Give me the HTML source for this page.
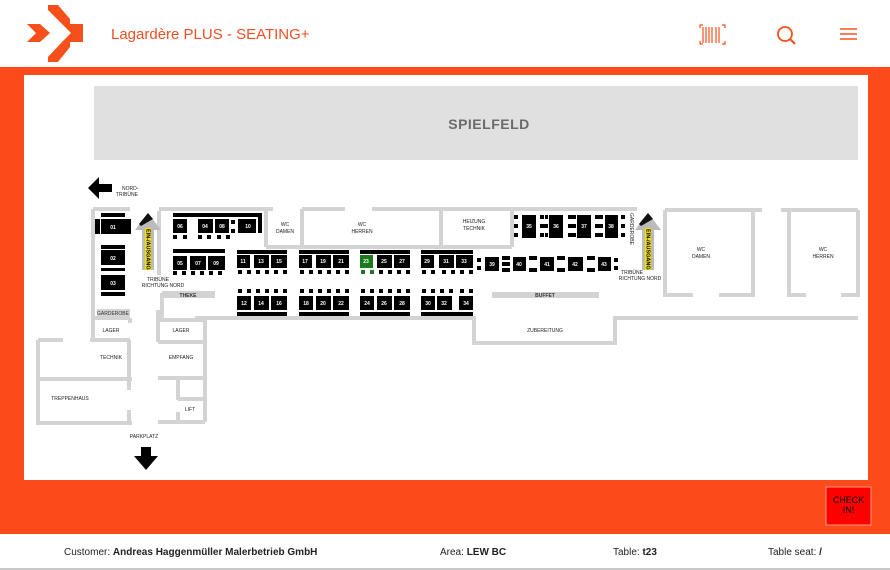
<!DOCTYPE html>
<html><head><meta charset="utf-8"><style>
html,body{margin:0;padding:0;width:890px;height:570px;overflow:hidden;background:#fff;font-family:"Liberation Sans",sans-serif}
</style></head><body>
<svg width="890" height="570" viewBox="0 0 890 570" xmlns="http://www.w3.org/2000/svg" font-family="Liberation Sans, sans-serif">
<rect width="890" height="570" fill="#fff"/>
<!-- logo -->
<g fill="#f5501c">
<polygon points="48,5 58,5 70,19 70,24 62,24 48,10"/>
<polygon points="27,24 40,24 50,33 40,42 27,42 36,33"/>
<polygon points="62,24 83,24 83,42 62,42 71,33"/>
<polygon points="62,42 70,42 70,47 58,62 48,62 48,57"/>
</g>
<text x="111" y="39" font-size="15" fill="#f04e23">Lagardère PLUS - SEATING+</text>
<!-- icons -->
<g stroke="#f5501c" fill="none" stroke-width="1.2">
<path d="M700,28 v-3 h3 M722,25 h3 v3 M700,41 v3 h3 M725,41 v3 h-3"/>
<path d="M703,27 v16 M706,27 v16 M709,27 v16 M712,27 v16 M716,27 v16 M719,27 v16" stroke-width="1.5" opacity="0.8"/>
<circle cx="785" cy="34" r="7" stroke-width="1.8"/>
<line x1="790" y1="39" x2="795" y2="44" stroke-width="2"/>
<path d="M840,29 h17 M840,34 h17 M840,39 h17" stroke-width="1.6"/>
</g>
<!-- orange band -->
<rect x="0" y="67" width="890" height="467" fill="#fc4a1a"/>
<rect x="24" y="75" width="844" height="405" fill="#fff"/>
<!-- spielfeld -->
<rect x="94" y="86" width="764" height="74" fill="#e0e0e0"/>
<text x="489" y="129" font-size="14" font-weight="bold" fill="#6b6b6b" text-anchor="middle" letter-spacing="0.5">SPIELFELD</text>
<!-- walls -->
<g stroke="#d3d3d3" stroke-width="4" fill="none">
<path d="M93,209 H130 M93,209 V340"/>
<path d="M159,211 V275 M159,209 H273 M266,209 V247 M302,209 H345 M372,209 H637 M302,209 V247 M441,209 V247 M512,209 V247 M266,247 H512"/>
<path d="M665,210 V295 H693 M719,295 H753 V210 M665,210 H762"/>
<path d="M789,210 V295 H806 M841,295 H858 V210 M781,210 H858"/>
<path d="M162,293 V318"/>
<path d="M195,318 H474 V343 H615 V318 H858"/>
<path d="M205,318 V422 M158,320 H205 M158,310 V342 M158,342 H205 M158,378 H205 M178,378 V400 M178,412 V422 M178,399 H205 M158,422 H205"/>
<path d="M38,340 H63 M90,340 H130 M38,340 V423 H132 M38,379 H132 M129,340 V390 M129,410 V423 M93,318 H130 M130,318 V323"/>
</g>
<rect x="162" y="291" width="53" height="7" fill="#d3d3d3"/>
<text x="188" y="297" font-size="5" fill="#333" text-anchor="middle" font-weight="bold">THEKE</text>
<rect x="492" y="292" width="107" height="6" fill="#d3d3d3"/>
<text x="545" y="297" font-size="5" fill="#333" text-anchor="middle" font-weight="bold">BUFFET</text>
<rect x="97" y="309" width="33" height="7" fill="#d3d3d3"/>
<text x="113" y="315" font-size="5" fill="#333" text-anchor="middle">GARDEROBE</text>
<!-- labels -->
<g font-size="5" fill="#222" text-anchor="middle">
<text x="285" y="226">WC</text><text x="285" y="233">DAMEN</text>
<text x="362" y="226">WC</text><text x="362" y="233">HERREN</text>
<text x="474" y="223">HEIZUNG</text><text x="474" y="230">TECHNIK</text>
<text x="701" y="251">WC</text><text x="701" y="258">DAMEN</text>
<text x="823" y="251">WC</text><text x="823" y="258">HERREN</text>
<text x="545" y="332">ZUBEREITUNG</text>
<text x="111" y="332">LAGER</text><text x="181" y="332">LAGER</text>
<text x="111" y="359">TECHNIK</text><text x="181" y="359">EMPFANG</text>
<text x="70" y="400">TREPPENHAUS</text><text x="190" y="411">LIFT</text>
<text x="144" y="438">PARKPLATZ</text>
<text x="122" y="190" text-anchor="start">NORD-</text><text x="116" y="196" text-anchor="start">TRIBÜNE</text>
<text x="158" y="281">TRIBÜNE</text><text x="163" y="287">RICHTUNG NORD</text>
<text x="632" y="274">TRIBÜNE</text><text x="640" y="280">RICHTUNG NORD</text>
</g>
<text font-size="5" fill="#222" transform="translate(630,213) rotate(90)">GARDEROBE</text>
<!-- arrows -->
<polygon points="88,188 99,177 99,184 112,184 112,192 99,192 99,199" fill="#000"/>
<polygon points="141,447 151,447 151,456 158,456 146,470 134,456 141,456" fill="#000"/>
<g>
<rect x="142" y="228" width="12" height="42" fill="#bbb"/>
<polygon points="148,213 161,230 135,230" fill="#bbb"/>
<polygon points="148,213 153,219 141,226 139,224" fill="#111"/>
<rect x="145" y="228" width="6" height="42" fill="#f3e000"/>
<text font-size="5.5" font-weight="bold" fill="#000" transform="translate(146.5,229) rotate(90)">EIN-/AUSGANG</text>
<rect x="642" y="228" width="12" height="42" fill="#bbb"/>
<polygon points="648,213 661,230 635,230" fill="#bbb"/>
<polygon points="648,213 653,219 641,226 639,224" fill="#111"/>
<rect x="645" y="228" width="6" height="42" fill="#f3e000"/>
<text font-size="5.5" font-weight="bold" fill="#000" transform="translate(646.5,229) rotate(90)">EIN-/AUSGANG</text>
</g>
<!-- tables -->
<g fill="#000">
<!-- 01-03 -->
<rect x="101" y="213" width="24" height="4"/><rect x="101" y="219" width="26" height="15"/><rect x="95" y="219" width="5" height="15"/><rect x="127" y="219" width="4" height="15"/>
<rect x="101" y="245" width="24" height="4"/><rect x="101" y="250" width="24" height="15"/><rect x="101" y="268" width="24" height="3"/>
<rect x="101" y="275" width="24" height="15"/><rect x="101" y="292" width="24" height="4"/>
<!-- 06 04 08 10 -->
<rect x="173" y="213" width="89" height="4"/><rect x="258" y="213" width="4" height="20"/>
<rect x="173" y="219" width="14" height="14"/><rect x="198" y="219" width="15" height="14"/><rect x="215" y="219" width="14" height="14"/><rect x="238" y="219" width="18" height="14"/>
<rect x="231" y="220" width="4" height="4"/><rect x="231" y="229" width="4" height="4"/>
<rect x="173" y="235" width="4" height="4"/><rect x="183" y="235" width="4" height="4"/><rect x="198" y="235" width="4" height="4"/><rect x="207" y="235" width="4" height="4"/><rect x="217" y="235" width="4" height="4"/><rect x="226" y="235" width="4" height="4"/>
<!-- 05 07 09 -->
<rect x="173" y="249" width="52" height="4"/>
<rect x="173" y="256" width="14" height="14"/><rect x="190" y="256" width="16" height="14"/><rect x="208" y="256" width="17" height="14"/>
<rect x="173" y="271" width="4" height="4"/><rect x="182" y="271" width="4" height="4"/><rect x="191" y="271" width="4" height="4"/><rect x="200" y="271" width="4" height="4"/><rect x="209" y="271" width="4" height="4"/><rect x="218" y="271" width="4" height="4"/>
</g>
<g id="rows" fill="#000">
<!-- upper row groups -->
<rect x="237" y="250" width="50" height="4"/><rect x="237" y="255" width="13" height="13"/><rect x="254" y="255" width="15" height="13"/><rect x="271" y="255" width="16" height="13"/>
<rect x="299" y="250" width="50" height="4"/><rect x="299" y="255" width="13" height="13"/><rect x="316" y="255" width="15" height="13"/><rect x="333" y="255" width="16" height="13"/>
<rect x="360" y="250" width="50" height="4"/><rect x="360" y="255" width="13" height="13" fill="#1b7a1b"/><rect x="377" y="255" width="15" height="13"/><rect x="394" y="255" width="16" height="13"/>
<rect x="421" y="250" width="52" height="4"/><rect x="421" y="255" width="13" height="13"/><rect x="439" y="255" width="15" height="13"/><rect x="456" y="255" width="17" height="13"/>
<!-- lower row -->
<rect x="237" y="296" width="14" height="14"/><rect x="254" y="296" width="15" height="14"/><rect x="271" y="296" width="16" height="14"/><rect x="237" y="312" width="50" height="4"/>
<rect x="299" y="296" width="14" height="14"/><rect x="316" y="296" width="15" height="14"/><rect x="333" y="296" width="16" height="14"/><rect x="299" y="312" width="50" height="4"/>
<rect x="360" y="296" width="14" height="14"/><rect x="377" y="296" width="15" height="14"/><rect x="394" y="296" width="16" height="14"/><rect x="360" y="312" width="50" height="4"/>
<rect x="421" y="296" width="14" height="14"/><rect x="437" y="296" width="15" height="14"/><rect x="459" y="296" width="14" height="14"/><rect x="421" y="312" width="52" height="4"/>
</g>
<g fill="#000">
<!-- chairs upper rows -->
<rect x="238" y="270" width="4" height="4"/><rect x="247" y="270" width="4" height="4"/><rect x="256" y="270" width="4" height="4"/><rect x="265" y="270" width="4" height="4"/><rect x="274" y="270" width="4" height="4"/><rect x="283" y="270" width="4" height="4"/>
<rect x="300" y="270" width="4" height="4"/><rect x="309" y="270" width="4" height="4"/><rect x="318" y="270" width="4" height="4"/><rect x="327" y="270" width="4" height="4"/><rect x="336" y="270" width="4" height="4"/><rect x="345" y="270" width="4" height="4"/>
<rect x="361" y="270" width="4" height="4" fill="#1b7a1b"/><rect x="370" y="270" width="4" height="4" fill="#1b7a1b"/><rect x="379" y="270" width="4" height="4"/><rect x="388" y="270" width="4" height="4"/><rect x="397" y="270" width="4" height="4"/><rect x="406" y="270" width="4" height="4"/>
<rect x="422" y="270" width="4" height="4"/><rect x="431" y="270" width="4" height="4"/><rect x="442" y="270" width="4" height="4"/><rect x="451" y="270" width="4" height="4"/><rect x="460" y="270" width="4" height="4"/><rect x="469" y="270" width="4" height="4"/>
<!-- chairs lower rows -->
<rect x="238" y="289" width="4" height="4"/><rect x="247" y="289" width="4" height="4"/><rect x="256" y="289" width="4" height="4"/><rect x="265" y="289" width="4" height="4"/><rect x="274" y="289" width="4" height="4"/><rect x="283" y="289" width="4" height="4"/>
<rect x="300" y="289" width="4" height="4"/><rect x="309" y="289" width="4" height="4"/><rect x="318" y="289" width="4" height="4"/><rect x="327" y="289" width="4" height="4"/><rect x="336" y="289" width="4" height="4"/><rect x="345" y="289" width="4" height="4"/>
<rect x="361" y="289" width="4" height="4"/><rect x="370" y="289" width="4" height="4"/><rect x="379" y="289" width="4" height="4"/><rect x="388" y="289" width="4" height="4"/><rect x="397" y="289" width="4" height="4"/><rect x="406" y="289" width="4" height="4"/>
<rect x="422" y="289" width="4" height="4"/><rect x="431" y="289" width="4" height="4"/><rect x="440" y="289" width="4" height="4"/><rect x="449" y="289" width="4" height="4"/><rect x="460" y="289" width="4" height="4"/><rect x="469" y="289" width="4" height="4"/>
<!-- 35-38 -->
<rect x="522" y="215" width="14" height="23"/><rect x="549" y="215" width="14" height="23"/><rect x="577" y="215" width="14" height="23"/><rect x="605" y="215" width="13" height="23"/>
<g id="cc">
<rect x="514" y="215" width="4" height="4"/><rect x="514" y="224" width="4" height="4"/><rect x="514" y="233" width="4" height="4"/>
<rect x="540" y="215" width="4" height="4"/><rect x="540" y="233" width="4" height="4"/><rect x="545" y="215" width="3" height="4"/><rect x="545" y="233" width="3" height="4"/><rect x="540" y="224" width="8" height="4"/>
<rect x="568" y="215" width="8" height="4"/><rect x="568" y="224" width="8" height="4"/><rect x="568" y="233" width="8" height="4"/>
<rect x="595" y="215" width="8" height="4"/><rect x="595" y="224" width="8" height="4"/><rect x="595" y="233" width="8" height="4"/>
<rect x="621" y="215" width="4" height="4"/><rect x="621" y="224" width="4" height="4"/><rect x="621" y="233" width="4" height="4"/>
</g>
<!-- 39-43 -->
<rect x="485" y="257" width="14" height="14"/><rect x="513" y="257" width="13" height="14"/><rect x="540" y="257" width="14" height="14"/><rect x="568" y="257" width="15" height="14"/><rect x="598" y="257" width="13" height="14"/>
<rect x="477" y="258" width="4" height="4"/><rect x="477" y="266" width="4" height="4"/>
<rect x="502" y="256" width="8" height="4"/><rect x="502" y="262" width="8" height="4"/><rect x="502" y="268" width="8" height="4"/>
<rect x="529" y="256" width="8" height="4"/><rect x="529" y="268" width="8" height="4"/>
<rect x="557" y="256" width="8" height="4"/><rect x="557" y="268" width="8" height="4"/>
<rect x="587" y="256" width="8" height="4"/><rect x="587" y="268" width="8" height="4"/>
<rect x="614" y="258" width="4" height="4"/><rect x="614" y="266" width="4" height="4"/>
</g>
<!-- table numbers -->
<g font-size="5" fill="#fff" text-anchor="middle" font-weight="bold">
<text x="113" y="229">01</text><text x="113" y="260">02</text><text x="113" y="285">03</text>
<text x="180" y="228">06</text><text x="205" y="228">04</text><text x="222" y="228">08</text><text x="248" y="228">10</text>
<text x="180" y="265">05</text><text x="198" y="265">07</text><text x="216" y="265">09</text>
<text x="243" y="263">11</text><text x="261" y="263">13</text><text x="279" y="263">15</text>
<text x="305" y="263">17</text><text x="323" y="263">19</text><text x="341" y="263">21</text>
<text x="366" y="263">23</text><text x="384" y="263">25</text><text x="402" y="263">27</text>
<text x="427" y="263">29</text><text x="446" y="263">31</text><text x="464" y="263">33</text>
<text x="244" y="305">12</text><text x="261" y="305">14</text><text x="279" y="305">16</text>
<text x="306" y="305">18</text><text x="323" y="305">20</text><text x="341" y="305">22</text>
<text x="367" y="305">24</text><text x="384" y="305">26</text><text x="402" y="305">28</text>
<text x="428" y="305">30</text><text x="444" y="305">32</text><text x="466" y="305">34</text>
<text x="529" y="228">35</text><text x="556" y="228">36</text><text x="584" y="228">37</text><text x="611" y="228">38</text>
<text x="492" y="266">39</text><text x="519" y="266">40</text><text x="547" y="266">41</text><text x="575" y="266">42</text><text x="604" y="266">43</text>
</g>
<!-- check in -->
<rect x="826" y="487" width="45" height="38" fill="#ff0000" stroke="#ff9a85" stroke-width="1"/>
<text x="848.5" y="503" font-size="9" fill="#000" text-anchor="middle">CHECK</text>
<text x="848.5" y="513" font-size="9" fill="#000" text-anchor="middle">IN!</text>
<!-- footer -->
<g font-size="10" fill="#222">
<text x="64" y="555">Customer: <tspan font-weight="bold">Andreas Haggenmüller Malerbetrieb GmbH</tspan></text>
<text x="440" y="555">Area: <tspan font-weight="bold">LEW BC</tspan></text>
<text x="613" y="555">Table: <tspan font-weight="bold">t23</tspan></text>
<text x="768" y="555">Table seat: <tspan font-weight="bold">/</tspan></text>
</g>
<rect x="0" y="568" width="890" height="2" fill="#c8c8c8"/>
</svg>
</body></html>
